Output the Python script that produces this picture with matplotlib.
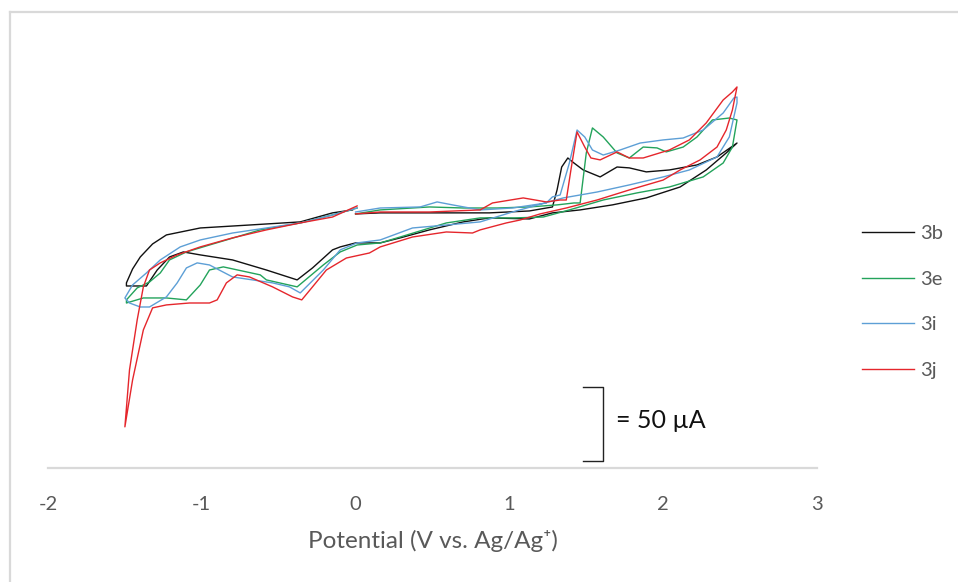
import numpy as np
import matplotlib
matplotlib.use('Agg')
import matplotlib.pyplot as plt
from matplotlib.lines import Line2D

plt.rcParams['font.family'] = ['Lato', 'DejaVu Sans']

# Cyclic voltammograms, potential (V vs Ag/Ag+) and current (uA, arbitrary offset)
# each trace: start at 0 V, forward to +2.5 V, back to -1.5 V, back to 0 V

E_3b = [0.00, 0.16, 0.66, 0.87, 1.13, 1.28, 1.31, 1.34, 1.38, 1.42, 1.48, 1.59, 1.70, 1.78, 1.89, 2.04, 2.22, 2.35, 2.48,
        2.41, 2.28, 2.11, 1.89, 1.67, 1.46, 1.28, 1.13, 0.87, 0.70, 0.48, 0.29, 0.16, 0.00, -0.10, -0.15, -0.28, -0.38,
        -0.58, -0.80, -1.01, -1.12, -1.21, -1.29, -1.36, -1.49,
        -1.49, -1.45, -1.40, -1.32, -1.23, -1.01, -0.69, -0.36, -0.15, -0.02]
I_3b = [0.7, 1.4, 1.4, 1.4, 2.7, 5.4, 16.9, 32.4, 38.5, 35.1, 30.4, 25.7, 32.4, 31.8, 29.1, 30.4, 33.8, 39.2, 48.6,
        41.9, 30.4, 18.9, 11.5, 6.8, 3.4, 1.4, -2.7, -2.0, -4.7, -10.1, -15.5, -18.9, -18.9, -21.6, -23.6, -35.8, -43.9,
        -37.2, -30.4, -27.0, -25.0, -28.4, -37.2, -48.0, -48.0,
        -45.9, -36.5, -28.4, -19.6, -13.5, -8.8, -6.8, -4.7, 1.4, 3.4]

E_3e = [0.00, 0.16, 0.48, 0.70, 0.92, 1.13, 1.31, 1.42, 1.46, 1.50, 1.54, 1.61, 1.70, 1.78, 1.87, 1.96, 2.02, 2.13, 2.22,
        2.32, 2.43, 2.48,
        2.45, 2.39, 2.26, 2.04, 1.83, 1.61, 1.39, 1.22, 1.03, 0.81, 0.59, 0.29, 0.16, 0.01, -0.10, -0.21, -0.38, -0.58,
        -0.62, -0.86, -0.95, -1.01, -1.10, -1.23, -1.38, -1.49,
        -1.49, -1.42, -1.34, -1.27, -1.21, -1.10, -0.95, -0.62, -0.36, -0.15, 0.01]
I_3e = [0.7, 3.4, 5.4, 4.7, 4.7, 5.4, 6.8, 8.1, 8.1, 41.9, 58.8, 52.7, 41.9, 38.5, 45.9, 45.3, 42.6, 45.9, 52.7,
        64.2, 65.5, 64.2,
        45.9, 35.1, 25.7, 18.9, 14.9, 10.1, 3.4, -1.4, -2.0, -2.0, -5.4, -14.9, -18.9, -20.3, -25.0, -33.8, -48.6, -43.9,
        -40.5, -35.1, -37.2, -47.3, -57.4, -56.1, -56.1, -59.5,
        -57.4, -49.3, -45.3, -39.2, -30.4, -25.0, -20.3, -10.1, -5.4, 0.0, 4.7]

E_3i = [0.00, 0.16, 0.42, 0.53, 0.63, 0.81, 1.02, 1.24, 1.28, 1.33, 1.39, 1.44, 1.49, 1.54, 1.61, 1.72, 1.85, 2.00, 2.13,
        2.26, 2.39, 2.46, 2.48,
        2.48, 2.43, 2.35, 2.17, 2.00, 1.78, 1.57, 1.35, 1.02, 0.81, 0.59, 0.37, 0.16, 0.01, -0.10, -0.21, -0.36, -0.43,
        -0.54, -0.80, -0.95, -1.03, -1.10, -1.16, -1.23, -1.34, -1.40, -1.47, -1.50,
        -1.45, -1.36, -1.27, -1.14, -1.01, -0.80, -0.58, -0.36, -0.15, 0.01]
I_3i = [2.0, 4.7, 5.4, 8.8, 6.8, 3.4, 4.7, 8.1, 12.2, 13.5, 35.1, 57.4, 52.7, 43.9, 40.5, 43.9, 48.6, 50.7, 52.0,
        57.4, 68.9, 79.1, 79.7,
        75.7, 52.7, 39.2, 30.4, 25.7, 20.3, 15.5, 11.5, 2.0, -4.7, -6.8, -8.8, -16.9, -18.9, -23.6, -37.2, -52.7, -48.6,
        -45.9, -41.9, -33.8, -32.4, -35.8, -45.9, -55.4, -62.2, -62.2, -59.5, -56.1,
        -47.3, -39.2, -30.4, -21.6, -16.9, -12.2, -8.8, -5.4, 0.0, 4.7]

E_3j = [0.00, 0.16, 0.48, 0.81, 0.89, 1.09, 1.24, 1.33, 1.37, 1.40, 1.44, 1.49, 1.53, 1.59, 1.70, 1.78, 1.87, 2.04, 2.17,
        2.28, 2.39, 2.45, 2.48,
        2.45, 2.41, 2.35, 2.24, 2.11, 2.00, 1.78, 1.57, 1.37, 1.20, 1.07, 0.98, 0.81, 0.76, 0.59, 0.37, 0.16, 0.09, -0.06,
        -0.19, -0.28, -0.35, -0.41, -0.54, -0.69, -0.77, -0.84, -0.90, -0.95, -1.08, -1.23, -1.32, -1.38, -1.45, -1.50,
        -1.47, -1.42, -1.38, -1.34, -1.27, -1.16, -1.01, -0.80, -0.58, -0.36, -0.15, -0.02, 0.01]
I_3j = [0.7, 2.0, 2.0, 3.4, 8.1, 11.5, 8.8, 10.1, 10.1, 30.4, 56.1, 45.9, 38.5, 37.2, 42.6, 38.5, 38.5, 43.9, 50.7,
        62.2, 77.7, 83.1, 86.5,
        70.9, 57.4, 45.9, 37.2, 30.4, 23.6, 16.9, 10.1, 4.7, 0.7, -3.4, -5.4, -10.1, -12.2, -11.5, -14.9, -21.6, -25.7, -29.1,
        -37.2, -48.6, -57.4, -55.4, -48.6, -41.9, -40.5, -45.9, -57.4, -59.5, -59.5, -60.8, -62.8, -77.7, -111.5, -143.2,
        -104.7, -70.9, -48.6, -37.2, -32.4, -27.0, -21.6, -15.5, -10.1, -5.4, -1.4, 4.7, 6.1]

labels = ['3b', '3e', '3i', '3j']
colors = ['#111111', '#23a35b', '#5d9fd6', '#e5262c']
traces = [(E_3b, I_3b), (E_3e, I_3e), (E_3i, I_3i), (E_3j, I_3j)]

xticks = [-2, -1, 0, 1, 2, 3]
scale_uA = 50

fig = plt.figure(figsize=(9.58, 5.82), dpi=100)
ax = fig.add_axes([0.0501, 0.1959, 0.8027, 0.7653])

for (E, I), lab, col in zip(traces, labels, colors):
    ax.plot(E, I, '-', color=col, lw=1.0, label=lab, solid_joinstyle='round')

ax.set_xlim(-2, 3)
ax.set_ylim(-171, 130)
ax.set_xticks(xticks)
ax.set_xticklabels([str(t) for t in xticks])
ax.set_yticks([])
for side in ['top', 'right', 'left']:
    ax.spines[side].set_visible(False)
ax.spines['bottom'].set_color('#d9d9d9')
ax.spines['bottom'].set_linewidth(1.6)
ax.tick_params(axis='x', length=0, pad=20, labelsize=14.5, labelcolor='#595959')
ax.set_xlabel('Potential (V vs. Ag/Ag⁺)', fontsize=17.5, color='#595959', labelpad=12)

# 50 uA scale bracket
yt, yb = -116, -116 - scale_uA
ax.plot([1.48, 1.61, 1.61, 1.48], [yt, yt, yb, yb], '-', color='#222222', lw=1.0)
ax.text(1.69, (yt + yb) / 2 + 2, '= 50 µA', fontsize=18, color='#111111', va='center', ha='left')

ax.legend(loc='upper left', bbox_to_anchor=(862 / 958, (582 - 225) / 582), bbox_transform=fig.transFigure,
          frameon=False, fontsize=14.5, handlelength=2.6, handletextpad=0.3, labelspacing=1.42,
          borderpad=0, borderaxespad=0, labelcolor='#595959')

# light chart-area border (clipped at right/bottom like the source)
fig.add_artist(Line2D([9.5 / 958, 9.5 / 958], [0, (582 - 12) / 582], transform=fig.transFigure, color='#d9d9d9', lw=1.6))
fig.add_artist(Line2D([9.5 / 958, 1], [(582 - 12) / 582, (582 - 12) / 582], transform=fig.transFigure, color='#d9d9d9', lw=1.6))

fig.savefig('out.png', dpi=100)
